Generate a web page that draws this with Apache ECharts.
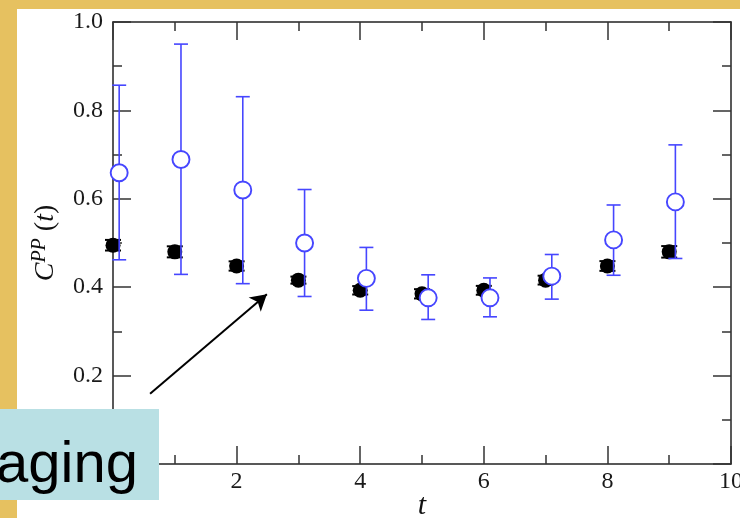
<!DOCTYPE html>
<html><head><meta charset="utf-8">
<script src="https://cdn.jsdelivr.net/npm/echarts@6/dist/echarts.min.js"></script>
<style>html,body{margin:0;padding:0;background:#e6c160;}#c{width:740px;height:518px;}</style>
</head><body><div id="c"></div>
<script>
// Filled (black) points
var blackT = [0, 1, 2, 3, 4, 5, 6, 7, 8, 9];
var blackY = [0.495, 0.480, 0.448, 0.416, 0.393, 0.385, 0.393, 0.416, 0.448, 0.480];
var blackErr = [0.012, 0.0125, 0.0105, 0.008, 0.0095, 0.0105, 0.010, 0.010, 0.011, 0.013];
// Open (blue) points
var blueT = [0.1, 1.1, 2.1, 3.1, 4.1, 5.1, 6.1, 7.1, 8.1, 9.1];
var blueY = [0.659, 0.689, 0.620, 0.500, 0.420, 0.376, 0.376, 0.425, 0.507, 0.593];
var blueLo = [0.462, 0.429, 0.408, 0.379, 0.348, 0.327, 0.333, 0.373, 0.427, 0.465];
var blueHi = [0.857, 0.950, 0.831, 0.621, 0.490, 0.428, 0.421, 0.474, 0.586, 0.722];
// Axes
var xTicks = [0, 2, 4, 6, 8, 10];
var yTicks = [0, 0.2, 0.4, 0.6, 0.8, 1.0];
// Annotation arrow (data coordinates)
var arrowFrom = [0.6, 0.159];
var arrowTo = [2.49, 0.384];
var boxText = 'aging';

var BLUE = '#4646ff';
var serif = 'Liberation Serif';

function errBars(color, width, cap) {
  return function (params, api) {
    var x = api.value(0), lo = api.value(1), hi = api.value(2);
    var a = api.coord([x, hi]), b = api.coord([x, lo]);
    var st = {stroke: color, lineWidth: width};
    return {type: 'group', children: [
      {type: 'line', shape: {x1: a[0], y1: a[1], x2: b[0], y2: b[1]}, style: st},
      {type: 'line', shape: {x1: a[0] - cap, y1: a[1], x2: a[0] + cap, y2: a[1]}, style: st},
      {type: 'line', shape: {x1: b[0] - cap, y1: b[1], x2: b[0] + cap, y2: b[1]}, style: st}
    ]};
  };
}

var blackPts = blackT.map(function (t, i) { return [t, blackY[i]]; });
var blackBars = blackT.map(function (t, i) { return [t, blackY[i] - blackErr[i], blackY[i] + blackErr[i]]; });
var bluePts = blueT.map(function (t, i) { return [t, blueY[i]]; });
var blueBars = blueT.map(function (t, i) { return [t, blueLo[i], blueHi[i]]; });

var tickCommon = {
  axisLine: {show: true, onZero: false, lineStyle: {color: '#222', width: 1.5}},
  axisTick: {show: true, inside: true, length: 18, lineStyle: {color: '#333', width: 1.5}},
  minorTick: {show: true, splitNumber: 2, length: 9, lineStyle: {color: '#333', width: 1.5}},
  splitLine: {show: false}
};

var chart = echarts.init(document.getElementById('c'), null, {renderer: 'canvas'});
chart.setOption({
  backgroundColor: '#e6c160',
  animation: false,
  grid: {left: 113, right: 9, top: 22, bottom: 54, containLabel: false, outerBoundsMode: 'none'},
  xAxis: [
    Object.assign({type: 'value', min: xTicks[0], max: xTicks[xTicks.length - 1], interval: xTicks[1] - xTicks[0],
      position: 'bottom',
      name: 't', nameLocation: 'middle', nameGap: 27, nameMoveOverlap: false,
      nameTextStyle: {fontFamily: serif, fontStyle: 'italic', fontSize: 30, color: '#111'},
      axisLabel: {show: true, margin: 6, fontFamily: serif, fontSize: 24, color: '#1a1a1a',
        formatter: function (v) { return String(v); }}
    }, tickCommon),
    Object.assign({type: 'value', min: xTicks[0], max: xTicks[xTicks.length - 1], interval: xTicks[1] - xTicks[0],
      position: 'top', axisLabel: {show: false}}, tickCommon)
  ],
  yAxis: [
    Object.assign({type: 'value', min: yTicks[0], max: yTicks[yTicks.length - 1], interval: 0.2,
      position: 'left',
      name: '{c|C}{s|PP} {p|(}{c|t}{p|)}', nameLocation: 'middle', nameRotate: 90, nameGap: 51, nameMoveOverlap: false,
      nameTextStyle: {fontSize: 28, fontFamily: serif, rich: {
        c: {fontFamily: serif, fontStyle: 'italic', fontSize: 28, color: '#111', lineHeight: 32},
        s: {fontFamily: serif, fontStyle: 'italic', fontSize: 20, color: '#111', verticalAlign: 'top'},
        p: {fontFamily: serif, fontSize: 28, color: '#111', lineHeight: 32}
      }},
      axisLabel: {show: true, margin: 10, fontFamily: serif, fontSize: 24, color: '#1a1a1a',
        formatter: function (v) { return v.toFixed(1); }}
    }, tickCommon),
    Object.assign({type: 'value', min: yTicks[0], max: yTicks[yTicks.length - 1], interval: 0.2,
      position: 'right', axisLabel: {show: false}}, tickCommon)
  ],
  series: [
    {type: 'custom', name: 'blackErr', renderItem: errBars('#000', 2, 8), data: blackBars, z: 3,
      encode: {x: 0, y: [1, 2]}, silent: true},
    {type: 'scatter', name: 'black', data: blackPts, symbol: 'circle', symbolSize: 15, clip: false,
      itemStyle: {color: '#000', opacity: 1}, z: 4, silent: true,
      markLine: {silent: true, symbol: ['none', 'arrow'], symbolSize: [14, 16], label: {show: false},
        lineStyle: {color: '#000', width: 2, type: 'solid'},
        data: [[{coord: arrowFrom}, {coord: arrowTo}]]}
    },
    {type: 'custom', name: 'blueErr', renderItem: errBars(BLUE, 1.6, 7), data: blueBars, z: 5,
      encode: {x: 0, y: [1, 2]}, silent: true},
    {type: 'scatter', name: 'blue', data: bluePts, symbol: 'circle', symbolSize: 17, clip: false,
      itemStyle: {color: '#fff', borderColor: BLUE, borderWidth: 1.9, opacity: 1}, z: 6, silent: true}
  ],
  graphic: {elements: [
    {type: 'rect', z: -100, silent: true, shape: {x: 17, y: 9, width: 723, height: 509}, style: {fill: '#ffffff'}},
    {type: 'rect', z: 100, silent: true, shape: {x: 0, y: 409, width: 159, height: 91}, style: {fill: '#b9e0e4'}},
    {type: 'text', z: 101, silent: true, x: 138, y: 466,
      style: {text: boxText, fontFamily: 'Liberation Sans', fontSize: 58, fill: '#000',
        align: 'right', verticalAlign: 'middle'}}
  ]}
});
</script></body></html>
